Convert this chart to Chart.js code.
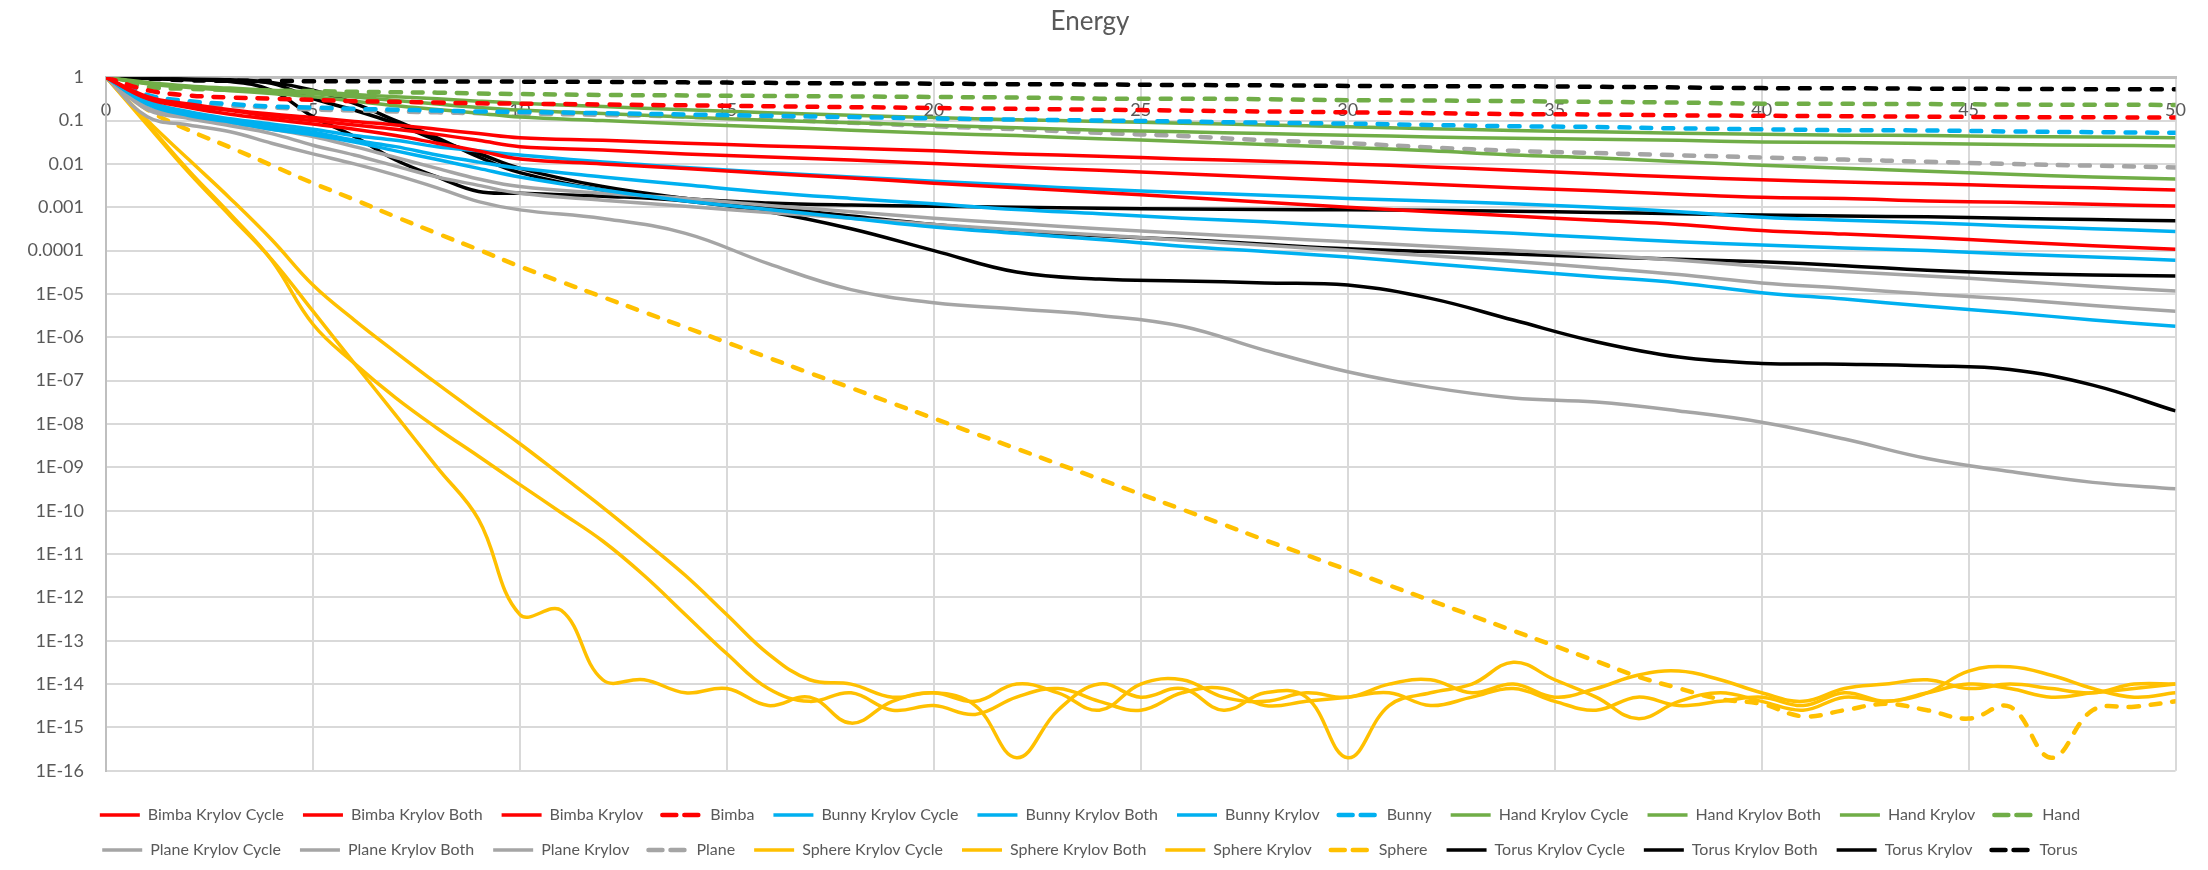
<!DOCTYPE html>
<html>
<head>
<meta charset="utf-8">
<title>Energy</title>
<script src="https://cdn.jsdelivr.net/npm/chart.js@4.4.0/dist/chart.umd.min.js"></script>
<style>
  html, body { margin: 0; padding: 0; background: #ffffff; }
</style>
</head>
<body>
<canvas id="canvas" width="2208" height="870"></canvas>
<script>
// iterations (coarse grid for the smooth runs, every step for the sphere runs)
const iters = [0, 1, 2, 3, 4, 5, 6, 7, 8, 9, 10, 12, 14, 16, 18, 20, 22, 24, 26, 28, 30, 32, 34, 36, 38, 40, 42, 44, 46, 48, 50];
const itersSphere = [0, 1, 2, 3, 4, 5, 6, 7, 8, 9, 10, 11, 12, 13, 14, 15, 16, 17, 18, 19, 20, 21, 22, 23, 24, 25,
  26, 27, 28, 29, 30, 31, 32, 33, 34, 35, 36, 37, 38, 39, 40, 41, 42, 43, 44, 45, 46, 47, 48, 49, 50];

const yTickValues = [1, 1e-1, 1e-2, 1e-3, 1e-4, 1e-5, 1e-6, 1e-7, 1e-8, 1e-9, 1e-10, 1e-11, 1e-12, 1e-13, 1e-14, 1e-15, 1e-16];
const yTickLabels = ['1', '0.1', '0.01', '0.001', '0.0001', '1E-05', '1E-06', '1E-07', '1E-08', '1E-09', '1E-10',
  '1E-11', '1E-12', '1E-13', '1E-14', '1E-15', '1E-16'];

// Bimba
const bimbaCycle = [1, 0.355, 0.24, 0.178, 0.141, 0.117, 0.095, 0.079, 0.063, 0.05, 0.04, 0.035, 0.030, 0.026, 0.023, 0.020,
  0.017, 0.015, 0.013, 0.0115, 0.01, 0.0085, 0.0071, 0.0059, 0.005, 0.0043, 0.0038, 0.0035, 0.0031, 0.0028, 0.0025];
const bimbaBoth = [1, 0.33, 0.22, 0.17, 0.126, 0.1, 0.079, 0.063, 0.048, 0.035, 0.025, 0.021, 0.017, 0.0145, 0.0123, 0.0102,
  0.0085, 0.0071, 0.0059, 0.0049, 0.0041, 0.0034, 0.0028, 0.0024, 0.002, 0.0017, 0.0016, 0.0014, 0.0013, 0.00117, 0.00107];
const bimbaKrylov = [1, 0.32, 0.2, 0.14, 0.107, 0.083, 0.063, 0.045, 0.030, 0.02, 0.013, 0.01, 0.0078, 0.006, 0.0047, 0.0036,
  0.0028, 0.0022, 0.0017, 0.0013, 0.001, 7.9e-4, 6.3e-4, 5e-4, 4e-4, 2.9e-4, 2.4e-4, 2e-4, 1.6e-4, 1.3e-4, 1.07e-4];
const bimba = [1, 0.5, 0.38, 0.34, 0.32, 0.3, 0.28, 0.27, 0.26, 0.25, 0.245, 0.235, 0.224, 0.214, 0.204, 0.195,
  0.186, 0.178, 0.17, 0.162, 0.155, 0.148, 0.141, 0.138, 0.132, 0.129, 0.126, 0.123, 0.12, 0.119, 0.117];

// Bunny
const bunnyCycle = [1, 0.28, 0.16, 0.11, 0.083, 0.063, 0.045, 0.035, 0.025, 0.02, 0.016, 0.011, 0.0083, 0.0063, 0.005, 0.004,
  0.0032, 0.0026, 0.0022, 0.0019, 0.0016, 0.0014, 0.0012, 0.001, 7.9e-4, 5.9e-4, 5e-4, 4.4e-4, 3.7e-4, 3.2e-4, 2.75e-4];
const bunnyBoth = [1, 0.25, 0.14, 0.1, 0.071, 0.054, 0.035, 0.025, 0.016, 0.011, 0.0079, 0.005, 0.0033, 0.0022, 0.0016, 0.0012,
  8.9e-4, 7.1e-4, 5.6e-4, 4.6e-4, 3.7e-4, 3e-4, 2.5e-4, 2e-4, 1.6e-4, 1.35e-4, 1.15e-4, 1e-4, 8.3e-5, 7.1e-5, 6e-5];
const bunnyKrylov = [1, 0.24, 0.13, 0.093, 0.063, 0.047, 0.032, 0.02, 0.0126, 0.0079, 0.005, 0.0025, 0.0014, 8.9e-4, 5.6e-4, 3.5e-4,
  2.5e-4, 1.8e-4, 1.26e-4, 9.5e-5, 7.1e-5, 5e-5, 3.5e-5, 2.5e-5, 1.8e-5, 1.07e-5, 7.6e-6, 5.2e-6, 3.7e-6, 2.5e-6, 1.8e-6];
const bunny = [1, 0.39, 0.28, 0.24, 0.21, 0.2, 0.186, 0.178, 0.17, 0.162, 0.158, 0.148, 0.138, 0.129, 0.12, 0.112,
  0.105, 0.1, 0.095, 0.089, 0.085, 0.079, 0.074, 0.071, 0.066, 0.063, 0.06, 0.059, 0.056, 0.054, 0.052];

// Hand
const handCycle = [1, 0.76, 0.63, 0.56, 0.5, 0.46, 0.4, 0.355, 0.32, 0.28, 0.25, 0.21, 0.178, 0.151, 0.132, 0.117,
  0.105, 0.095, 0.087, 0.079, 0.072, 0.065, 0.059, 0.055, 0.051, 0.048, 0.046, 0.045, 0.043, 0.042, 0.04];
const handBoth = [1, 0.72, 0.6, 0.52, 0.47, 0.42, 0.35, 0.29, 0.24, 0.2, 0.174, 0.145, 0.12, 0.102, 0.089, 0.078,
  0.068, 0.06, 0.055, 0.05, 0.046, 0.042, 0.039, 0.037, 0.035, 0.032, 0.031, 0.0295, 0.028, 0.027, 0.026];
const handKrylov = [1, 0.71, 0.58, 0.49, 0.42, 0.355, 0.28, 0.22, 0.18, 0.148, 0.12, 0.1, 0.083, 0.071, 0.06, 0.051,
  0.045, 0.038, 0.033, 0.028, 0.024, 0.02, 0.016, 0.0138, 0.0112, 0.0093, 0.0079, 0.0068, 0.0058, 0.005, 0.0045];
const hand = [1, 0.6, 0.54, 0.51, 0.49, 0.48, 0.46, 0.45, 0.44, 0.42, 0.41, 0.39, 0.38, 0.37, 0.36, 0.35,
  0.34, 0.32, 0.32, 0.31, 0.295, 0.29, 0.28, 0.27, 0.26, 0.245, 0.243, 0.24, 0.234, 0.232, 0.229];

// Plane
const planeCycle = [1, 0.2, 0.126, 0.089, 0.063, 0.043, 0.025, 0.014, 0.0079, 0.0045, 0.003, 0.0021, 0.0016, 0.0011, 7.9e-4, 5.6e-4,
  4.2e-4, 3.2e-4, 2.5e-4, 2e-4, 1.6e-4, 1.26e-4, 1e-4, 7.9e-5, 6e-5, 4.3e-5, 3.3e-5, 2.6e-5, 2e-5, 1.5e-5, 1.17e-5];
const planeBoth = [1, 0.178, 0.112, 0.076, 0.05, 0.027, 0.016, 0.0089, 0.005, 0.0032, 0.0021, 0.00145, 0.00105, 7.6e-4, 5.6e-4, 4e-4,
  3e-4, 2.3e-4, 1.74e-4, 1.32e-4, 1e-4, 7.6e-5, 5.6e-5, 4e-5, 2.8e-5, 1.8e-5, 1.35e-5, 1e-5, 7.6e-6, 5.4e-6, 4e-6];
const planeKrylov = [1, 0.123, 0.079, 0.055, 0.03, 0.017, 0.01, 0.0055, 0.0028, 0.00135, 8.7e-4, 5.5e-4, 2.5e-4, 5e-5, 1.26e-5, 6.3e-6,
  4.5e-6, 3.2e-6, 1.8e-6, 5e-7, 1.6e-7, 7e-8, 4e-8, 3.2e-8, 2e-8, 1.1e-8, 4.5e-9, 1.6e-9, 8e-10, 4.5e-10, 3.2e-10];
const plane = [1, 0.36, 0.26, 0.22, 0.2, 0.18, 0.17, 0.162, 0.155, 0.148, 0.145, 0.135, 0.123, 0.107, 0.089, 0.074,
  0.063, 0.052, 0.044, 0.035, 0.03, 0.024, 0.02, 0.0178, 0.0158, 0.0141, 0.0126, 0.0112, 0.01, 0.0091, 0.0083];

// Sphere
const sphereCycle = [1, 0.1, 0.0126, 1.6e-3, 1.8e-4, 1.6e-5, 2.5e-6, 4.5e-7, 8.5e-8, 1.7e-8, 3.5e-9, 6.5e-10, 1.2e-10, 2e-11, 3.2e-12, 4e-13,
  5e-14, 1.26e-14, 1e-14, 5e-15, 6.3e-15, 4e-15, 1e-14, 6.3e-15, 2.5e-15, 1e-14, 1.26e-14, 5e-15, 4e-15, 6.3e-15, 5e-15,
  1e-14, 1.26e-14, 6.3e-15, 1e-14, 5e-15, 7.9e-15, 1.6e-14, 2e-14, 1.26e-14, 6.3e-15, 4e-15, 7.9e-15, 1e-14, 1.26e-14,
  7.9e-15, 1e-14, 7.9e-15, 6.3e-15, 1e-14, 1e-14];
const sphereBoth = [1, 0.079, 6.3e-3, 6.3e-4, 6.3e-5, 4e-6, 2.5e-7, 1.6e-8, 1e-9, 6.3e-11, 4e-13, 5e-13, 1.26e-14, 1.26e-14, 6.3e-15,
  7.9e-15, 3.2e-15, 5e-15, 1.26e-15, 4e-15, 6.3e-15, 3.2e-15, 2e-16, 2.5e-15, 1e-14, 5e-15, 7.9e-15, 2.5e-15, 6.3e-15, 5e-15,
  2e-16, 3.2e-15, 6.3e-15, 1e-14, 3.2e-14, 1.26e-14, 5e-15, 1.6e-15, 4e-15, 6.3e-15, 4e-15, 2.5e-15, 5e-15, 4e-15, 6.3e-15,
  2e-14, 2.5e-14, 1.6e-14, 7.9e-15, 5e-15, 6.3e-15];
const sphereKrylov = [1, 0.085, 7e-3, 7e-4, 6e-5, 2e-6, 2.5e-7, 4e-8, 8e-9, 1.8e-9, 4e-10, 9e-11, 2e-11, 3.2e-12, 4e-13, 5e-14,
  7.9e-15, 4e-15, 6.3e-15, 2.5e-15, 3.2e-15, 2e-15, 5e-15, 7.9e-15, 4e-15, 2.5e-15, 6.3e-15, 7.9e-15, 3.2e-15, 4e-15, 5e-15,
  6.3e-15, 3.2e-15, 5e-15, 7.9e-15, 4e-15, 2.5e-15, 5e-15, 3.2e-15, 4e-15, 5e-15, 3.2e-15, 6.3e-15, 4e-15, 6.3e-15,
  1e-14, 7.9e-15, 5e-15, 6.3e-15, 7.9e-15, 1e-14];
const sphere = [1, 0.18, 0.06, 0.024, 0.0093, 0.0036, 0.0015, 6.0e-4, 2.5e-4, 1.05e-4, 4.3e-5, 1.9e-5, 8.5e-6, 3.8e-6, 1.7e-6,
  7.6e-7, 3.4e-7, 1.5e-7, 6.8e-8, 3.0e-8, 1.35e-8, 6.0e-9, 2.7e-9, 1.2e-9, 5.4e-10, 2.4e-10, 1.07e-10, 4.8e-11, 2.1e-11,
  9.5e-12, 4.3e-12, 1.9e-12, 8.5e-13, 3.8e-13, 1.7e-13, 7.6e-14, 3.4e-14, 1.5e-14, 8.0e-15, 4.5e-15, 3.5e-15, 1.8e-15,
  2.5e-15, 3.5e-15, 2.5e-15, 1.6e-15, 3.0e-15, 2.0e-16, 2.5e-15, 3.0e-15, 4.0e-15];

// Torus
const torusCycle = [1, 0.95, 0.91, 0.87, 0.76, 0.5, 0.25, 0.1, 0.04, 0.0145, 0.0063, 0.0025, 0.0016, 0.00126, 0.00112, 0.00105,
  0.001, 9.5e-4, 9.1e-4, 8.9e-4, 8.7e-4, 8.5e-4, 8.1e-4, 7.6e-4, 7.1e-4, 6.6e-4, 6.3e-4, 6e-4, 5.6e-4, 5.2e-4, 4.9e-4];
const torusBoth = [1, 0.95, 0.89, 0.83, 0.72, 0.32, 0.174, 0.085, 0.035, 0.0174, 0.0079, 0.003, 0.0016, 0.001, 6.3e-4, 4e-4,
  2.8e-4, 2.2e-4, 1.8e-4, 1.4e-4, 1.1e-4, 9.5e-5, 8.3e-5, 7.2e-5, 6.3e-5, 5.5e-5, 4.5e-5, 3.5e-5, 3e-5, 2.75e-5, 2.6e-5];
const torusKrylov = [1, 0.93, 0.87, 0.79, 0.5, 0.123, 0.043, 0.0123, 0.005, 0.0023, 0.0021, 0.0018, 0.0014, 7.9e-4, 3.2e-4, 1e-4,
  3.2e-5, 2.2e-5, 2e-5, 1.8e-5, 1.6e-5, 7.9e-6, 2.5e-6, 7.9e-7, 3.5e-7, 2.5e-7, 2.4e-7, 2.2e-7, 1.8e-7, 7.9e-8, 2e-8];
const torus = [1, 0.93, 0.85, 0.83, 0.82, 0.81, 0.81, 0.805, 0.8, 0.8, 0.79, 0.78, 0.76, 0.74, 0.72, 0.71,
  0.69, 0.68, 0.66, 0.65, 0.63, 0.62, 0.62, 0.6, 0.58, 0.56, 0.556, 0.543, 0.537, 0.53, 0.525];

const RED = '#FF0000', BLUE = '#00B0F0', GREEN = '#70AD47', GRAY = '#A5A5A5', YELLOW = '#FFC000', BLACK = '#000000';
const TEXT = '#595959';

function line(label, xs, ys, color, dashed) {
  return {
    label: label,
    data: xs.map((x, i) => ({ x: x, y: ys[i] })),
    borderColor: color,
    backgroundColor: color,
    borderWidth: dashed ? 4.5 : 3.5,
    borderDash: dashed ? [10, 12] : [],
    borderCapStyle: dashed ? 'round' : 'butt',
    pointRadius: 0,
    pointHoverRadius: 0,
    tension: 0.4,
    fill: false
  };
}

const datasets = [
  line('Bimba Krylov Cycle', iters, bimbaCycle, RED),
  line('Bimba Krylov Both', iters, bimbaBoth, RED),
  line('Bimba Krylov', iters, bimbaKrylov, RED),
  line('Bimba', iters, bimba, RED, true),
  line('Bunny Krylov Cycle', iters, bunnyCycle, BLUE),
  line('Bunny Krylov Both', iters, bunnyBoth, BLUE),
  line('Bunny Krylov', iters, bunnyKrylov, BLUE),
  line('Bunny', iters, bunny, BLUE, true),
  line('Hand Krylov Cycle', iters, handCycle, GREEN),
  line('Hand Krylov Both', iters, handBoth, GREEN),
  line('Hand Krylov', iters, handKrylov, GREEN),
  line('Hand', iters, hand, GREEN, true),
  line('Plane Krylov Cycle', iters, planeCycle, GRAY),
  line('Plane Krylov Both', iters, planeBoth, GRAY),
  line('Plane Krylov', iters, planeKrylov, GRAY),
  line('Plane', iters, plane, GRAY, true),
  line('Sphere Krylov Cycle', itersSphere, sphereCycle, YELLOW),
  line('Sphere Krylov Both', itersSphere, sphereBoth, YELLOW),
  line('Sphere Krylov', itersSphere, sphereKrylov, YELLOW),
  line('Sphere', itersSphere, sphere, YELLOW, true),
  line('Torus Krylov Cycle', iters, torusCycle, BLACK),
  line('Torus Krylov Both', iters, torusBoth, BLACK),
  line('Torus Krylov', iters, torusKrylov, BLACK),
  line('Torus', iters, torus, BLACK, true)
];

const ctx = document.getElementById('canvas').getContext('2d');
const myChart = new Chart(ctx, {
  type: 'line',
  data: { datasets: datasets },
  options: {
    responsive: false,
    animation: false,
    layout: { padding: { left: 0, right: 28, top: 0, bottom: 2 } },
    plugins: {
      title: {
        display: true,
        text: 'Energy',
        color: TEXT,
        font: { family: 'Lato', size: 26, weight: 'normal' },
        padding: { top: 6, bottom: 40 }
      },
      legend: {
        position: 'bottom',
        // empty title only pushes the legend rows down a little
        title: { display: true, text: '', font: { size: 1 }, padding: 8 },
        labels: {
          color: TEXT,
          font: { family: 'Lato', size: 16 },
          boxWidth: 40,
          boxHeight: 0,
          padding: 19
        }
      },
      tooltip: { enabled: false }
    },
    scales: {
      x: {
        type: 'linear',
        min: 0,
        max: 50,
        position: { y: 1 },
        ticks: { stepSize: 5, color: TEXT, font: { family: 'Lato', size: 18 }, padding: 22 },
        grid: { color: '#D9D9D9', lineWidth: 2, drawTicks: false },
        border: { color: '#BFBFBF', width: 3 }
      },
      y: {
        type: 'logarithmic',
        min: 1e-16,
        max: 1,
        afterBuildTicks: scale => {
          scale.ticks = yTickValues.map(v => ({ value: v }));
        },
        afterFit: scale => {
          scale.width = 106;
        },
        ticks: {
          color: TEXT,
          font: { family: 'Lato', size: 18 },
          padding: 22,
          callback: value => yTickLabels[yTickValues.indexOf(value)]
        },
        grid: { color: '#D9D9D9', lineWidth: 2, drawTicks: false },
        border: { color: '#BFBFBF', width: 2 }
      }
    }
  }
});
</script>
</body>
</html>
